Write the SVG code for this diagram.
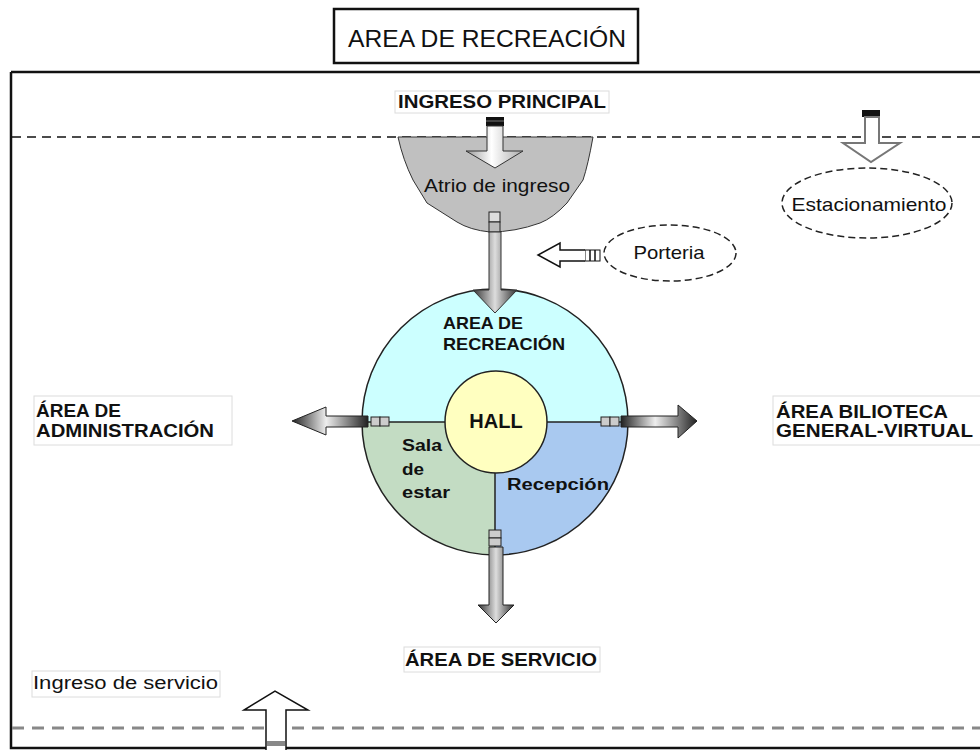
<svg xmlns="http://www.w3.org/2000/svg" width="980" height="750" viewBox="0 0 980 750">
<defs>
<style>
.t{font-family:"Liberation Sans",Arial,sans-serif;fill:#111}
.b{font-weight:bold}
.lbl{fill:#fff;stroke:#dcdcdc;stroke-width:1}
.dash{fill:none;stroke:#111;stroke-width:1.5;stroke-dasharray:9 6}
.ell{fill:#fff;stroke:#222;stroke-width:1.5;stroke-dasharray:7 4}
</style>
<linearGradient id="gH" x1="0" y1="0" x2="1" y2="0">
<stop offset="0" stop-color="#222"/><stop offset="0.45" stop-color="#eee"/><stop offset="1" stop-color="#222"/>
</linearGradient>
<linearGradient id="gV" x1="0" y1="0" x2="1" y2="0">
<stop offset="0" stop-color="#333"/><stop offset="0.5" stop-color="#ddd"/><stop offset="1" stop-color="#333"/>
</linearGradient>
<linearGradient id="gL" x1="0" y1="0" x2="1" y2="0">
<stop offset="0" stop-color="#999"/><stop offset="0.45" stop-color="#fff"/><stop offset="1" stop-color="#aaa"/>
</linearGradient>
</defs>
<rect width="980" height="750" fill="#fff"/>

<g id="title">
<rect x="334" y="9" width="304" height="54" fill="#fff" stroke="#111" stroke-width="2.5"/>
<text class="t" x="487" y="47" font-size="24" text-anchor="middle" textLength="278" lengthAdjust="spacingAndGlyphs">AREA DE RECREACIÓN</text>
</g>

<g id="frame">
<path d="M11,72 H985 M11,72 V748 H985" fill="none" stroke="#111" stroke-width="2.5"/>
<line class="dash" x1="12" y1="137" x2="980" y2="137"/>
<line x1="12" y1="728" x2="980" y2="728" stroke="#888" stroke-width="3" stroke-dasharray="12 8"/>
</g>

<g id="atrio">
<path d="M398,137 L593,137 Q588,165 583,180 L567,203 Q553,218 540,223 Q515,232 490,232 Q470,230 457,222 L427,203 L413,180 Q403,160 398,137 Z" fill="#c0c0c0" stroke="#333" stroke-width="1"/>
<text class="t" x="497" y="192" font-size="19" text-anchor="middle" fill="#333" textLength="146" lengthAdjust="spacingAndGlyphs">Atrio de ingreso</text>
</g>

<g id="ingreso-principal">
<rect class="lbl" x="395" y="91" width="214" height="22"/>
<text class="t b" x="502" y="108" font-size="18" text-anchor="middle" textLength="208" lengthAdjust="spacingAndGlyphs">INGRESO PRINCIPAL</text>
</g>

<g id="estacionamiento">
<ellipse class="ell" cx="867" cy="203" rx="85" ry="35"/>
<text class="t" x="869" y="211" font-size="19" text-anchor="middle" fill="#222" textLength="155" lengthAdjust="spacingAndGlyphs">Estacionamiento</text>
</g>

<g id="porteria">
<ellipse class="ell" cx="670" cy="253" rx="66" ry="28"/>
<text class="t" x="669" y="259" font-size="19" text-anchor="middle" fill="#222" textLength="71" lengthAdjust="spacingAndGlyphs">Porteria</text>
</g>

<g id="area-recreacion">
<path d="M362,422 A133,133 0 0 1 628,422 Z" fill="#ccffff"/>
<path d="M362,422 A133,133 0 0 0 495,555 L495,422 Z" fill="#c3dcc3"/>
<path d="M495,555 A133,133 0 0 0 628,422 L495,422 Z" fill="#a9c9f0"/>
<circle cx="495" cy="422" r="133" fill="none" stroke="#222" stroke-width="1.5"/>
<path d="M362,422 H628 M495,422 V555" stroke="#222" stroke-width="1.5"/>
<text class="t b" x="443" y="329" font-size="17" textLength="80" lengthAdjust="spacingAndGlyphs">AREA DE</text>
<text class="t b" x="443" y="350" font-size="17" textLength="122" lengthAdjust="spacingAndGlyphs">RECREACIÓN</text>
</g>

<g id="sala-estar">
<text class="t b" x="402" y="451" font-size="16" fill="#222" textLength="40" lengthAdjust="spacingAndGlyphs">Sala</text>
<text class="t b" x="402" y="475" font-size="16" fill="#222" textLength="22" lengthAdjust="spacingAndGlyphs">de</text>
<text class="t b" x="402" y="498" font-size="16" fill="#222" textLength="48" lengthAdjust="spacingAndGlyphs">estar</text>
</g>

<g id="recepcion">
<text class="t b" x="507" y="490" font-size="16" fill="#222" textLength="102" lengthAdjust="spacingAndGlyphs">Recepción</text>
</g>

<g id="hall">
<circle cx="496" cy="422" r="51" fill="#ffffc0" stroke="#222" stroke-width="1.5"/>
<text class="t b" x="496" y="428" font-size="20" text-anchor="middle">HALL</text>
</g>

<g id="area-administracion">
<rect class="lbl" x="34" y="396" width="198" height="49"/>
<text class="t b" x="36" y="417" font-size="19">ÁREA DE</text>
<text class="t b" x="36" y="437" font-size="19" textLength="178" lengthAdjust="spacingAndGlyphs">ADMINISTRACIÓN</text>
</g>

<g id="area-biblioteca">
<rect class="lbl" x="773" y="396" width="210" height="49"/>
<text class="t b" x="776" y="418" font-size="19" textLength="172" lengthAdjust="spacingAndGlyphs">ÁREA BILIOTECA</text>
<text class="t b" x="776" y="437" font-size="19" textLength="197" lengthAdjust="spacingAndGlyphs">GENERAL-VIRTUAL</text>
</g>

<g id="area-servicio">
<rect class="lbl" x="404" y="647" width="196" height="25"/>
<text class="t b" x="405" y="666" font-size="18" textLength="192" lengthAdjust="spacingAndGlyphs">ÁREA DE SERVICIO</text>
</g>

<g id="ingreso-servicio">
<rect class="lbl" x="32" y="671" width="188" height="26"/>
<text class="t" x="33" y="689" font-size="18" textLength="185" lengthAdjust="spacingAndGlyphs">Ingreso de servicio</text>
</g>

<g id="connectors">
<!-- ingreso principal -> atrio -->
<rect x="486" y="117" width="18" height="9" fill="#111"/>
<line x1="486" y1="121" x2="504" y2="121" stroke="#777" stroke-width="1"/>
<path d="M487,126 H503 V151 H523 L495,168 L466,151 H487 Z" fill="url(#gL)" stroke="#333" stroke-width="1"/>
<!-- atrio -> recreacion -->
<rect x="489" y="212" width="11" height="10" fill="#ddd" stroke="#222"/>
<rect x="489" y="222" width="11" height="10" fill="#bbb" stroke="#222"/>
<path d="M489,232 H501 V290 H517 L495,313 L473,290 H489 Z" fill="url(#gV)" stroke="#333" stroke-width="1"/>
<!-- porteria -> -->
<rect x="585" y="250" width="15" height="11" fill="#fff" stroke="#111"/>
<path d="M590,250 V261 M595,250 V261" stroke="#111" stroke-width="1.5"/>
<path d="M585,250 H560 V243 L538,255 L560,267 V261 H585" fill="#fff" stroke="#111" stroke-width="1.5"/>
<!-- estacionamiento -->
<rect x="862" y="110" width="18" height="7" fill="#111"/>
<path d="M865,117 H879 V143 H900 L871,162 L843,143 H865 Z" fill="#fff" stroke="#777" stroke-width="2"/>
<!-- left to administracion -->
<rect x="371" y="417" width="9" height="9" fill="#ccc" stroke="#222"/>
<rect x="380" y="417" width="9" height="9" fill="#ccc" stroke="#222"/>
<path d="M368,416 H326 V407 L292,421 L326,435 V427 H368 Z" fill="url(#gH)" stroke="#222" stroke-width="1"/>
<!-- right to biblioteca -->
<rect x="601" y="417" width="9" height="9" fill="#ccc" stroke="#222"/>
<rect x="610" y="417" width="9" height="9" fill="#ccc" stroke="#222"/>
<path d="M621,416 H678 V405 L697,421 L678,438 V427 H621 Z" fill="url(#gH)" stroke="#222" stroke-width="1"/>
<!-- down to servicio -->
<rect x="489" y="530" width="12" height="8" fill="#ccc" stroke="#222"/>
<rect x="489" y="538" width="12" height="8" fill="#ccc" stroke="#222"/>
<path d="M489,547 H503 V605 H514 L496,623 L478,605 H489 Z" fill="url(#gV)" stroke="#222" stroke-width="1"/>
<!-- ingreso servicio -->
<path d="M266,750 V710 H244 L275,691 L308,710 H286 V750" fill="#fff" stroke="#111" stroke-width="1.5"/>
<rect x="267" y="741" width="18" height="5" fill="#888"/>
</g>
</svg>
